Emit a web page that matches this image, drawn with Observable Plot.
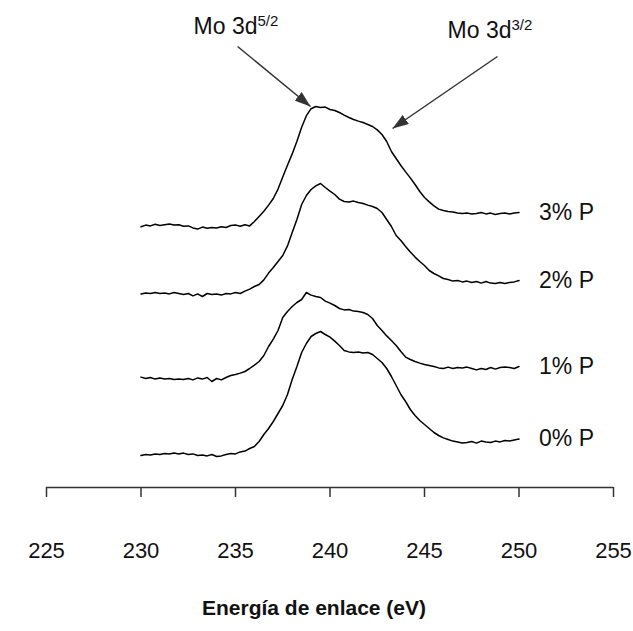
<!DOCTYPE html>
<html>
<head>
<meta charset="utf-8">
<script src="https://cdn.jsdelivr.net/npm/d3@7"></script>
<script src="https://cdn.jsdelivr.net/npm/@observablehq/plot@0.6"></script>
<style>
  body { margin: 0; background: #fff; }
  #chart svg { display: block; }
</style>
</head>
<body>
<div id="chart"></div>
<script>
// Binding energy sampling (eV)
const energy = [
  230, 230.25, 230.5, 230.75, 231, 231.25, 231.5, 231.75, 232, 232.25, 232.5, 232.75,
  233, 233.25, 233.5, 233.75, 234, 234.25, 234.5, 234.75, 235, 235.25, 235.5, 235.75,
  236, 236.25, 236.5, 236.75, 237, 237.25, 237.5, 237.75, 238, 238.25, 238.5, 238.75,
  239, 239.25, 239.5, 239.75, 240, 240.25, 240.5, 240.75, 241, 241.25, 241.5, 241.75,
  242, 242.25, 242.5, 242.75, 243, 243.25, 243.5, 243.75, 244, 244.25, 244.5, 244.75,
  245, 245.25, 245.5, 245.75, 246, 246.25, 246.5, 246.75, 247, 247.25, 247.5, 247.75,
  248, 248.25, 248.5, 248.75, 249, 249.25, 249.5, 249.75, 250
];

// Mo 3d intensity (a.u., spectra stacked with vertical offsets)
const p0 = [
  8.0, 8.25, 8.1, 8.4, 8.25, 8.5, 8.4, 8.6, 8.4, 8.6, 8.25, 8.4,
  8.0, 8.1, 7.9, 8.25, 7.75, 7.9, 8.25, 8.5, 8.4, 8.9, 9.1, 9.75,
  10.25, 11.5, 13.25, 14.75, 16.5, 18.5, 20.5, 23.25, 27.0, 30.25, 33.75, 36.0,
  37.75, 38.5, 39.0, 38.25, 37.6, 36.6, 35.5, 34.25, 33.9, 33.75, 33.9, 33.6,
  33.75, 33.25, 32.25, 31.25, 29.75, 27.75, 25.5, 23.25, 21.5, 19.5, 18.0, 16.75,
  15.75, 14.75, 13.75, 13.0, 12.4, 12.0, 11.6, 11.4, 11.1, 11.25, 11.5, 11.1,
  11.6, 11.4, 11.25, 11.6, 11.4, 11.75, 11.6, 11.9, 12.1
];
const p1 = [
  27.6, 27.25, 27.5, 27.1, 27.4, 27.1, 27.25, 27.0, 27.1, 27.0, 27.25, 26.9,
  27.4, 27.1, 27.5, 26.5, 27.25, 26.9, 27.5, 28.0, 28.25, 28.6, 29.0, 29.75,
  30.6, 31.5, 33.0, 35.25, 37.1, 39.25, 42.5, 44.0, 45.25, 46.25, 47.0, 48.75,
  48.1, 47.75, 47.5, 46.6, 46.1, 45.5, 44.75, 44.4, 44.5, 44.1, 44.0, 43.75,
  43.25, 42.25, 40.5, 39.25, 37.9, 36.75, 35.5, 34.0, 32.6, 32.0, 31.5, 31.1,
  30.75, 30.5, 30.25, 29.9, 29.75, 30.1, 29.75, 30.0, 29.9, 30.1, 29.75, 29.4,
  29.75, 29.5, 30.0, 29.6, 30.0, 30.1, 30.0, 29.75, 30.25
];
const p2 = [
  48.4, 48.6, 48.5, 48.75, 48.5, 48.6, 48.4, 48.75, 48.5, 48.25, 48.5, 47.9,
  48.4, 47.75, 48.5, 48.25, 48.4, 48.1, 48.5, 48.4, 48.75, 48.5, 49.1, 49.6,
  50.25, 50.75, 51.9, 53.6, 55.0, 56.5, 58.0, 60.4, 63.75, 67.0, 70.75, 73.0,
  74.5, 75.4, 76.0, 75.0, 74.1, 73.25, 72.1, 71.5, 71.4, 71.6, 71.25, 71.0,
  70.6, 70.25, 69.75, 68.75, 67.0, 65.25, 63.0, 61.75, 60.25, 58.9, 57.6, 56.5,
  55.5, 54.25, 53.5, 52.9, 52.25, 52.0, 51.6, 51.75, 51.4, 51.6, 51.25, 51.5,
  51.1, 51.5, 51.1, 51.0, 51.25, 51.0, 51.25, 51.4, 51.75
];
const p3 = [
  65.2, 65.6, 65.4, 65.8, 65.5, 65.7, 65.9, 65.6, 65.7, 65.3, 65.4, 64.9,
  64.6, 65.1, 64.8, 65.0, 64.9, 65.2, 65.0, 65.5, 65.6, 65.3, 65.7, 65.4,
  66.5, 67.75, 69.05, 70.6, 72.25, 74.6, 77.6, 80.55, 83.4, 86.55, 90.05, 92.95,
  94.7, 95.25, 95.0, 95.1, 94.5, 94.25, 93.75, 93.1, 92.5, 92.0, 91.6, 91.25,
  90.75, 90.25, 89.4, 88.25, 86.5, 84.0, 82.25, 80.5, 78.9, 77.4, 75.75, 74.0,
  72.5, 71.4, 70.4, 69.6, 69.25, 69.0, 68.9, 68.6, 68.5, 68.6, 68.4, 68.5,
  68.75, 68.4, 68.6, 68.25, 68.5, 68.6, 68.4, 68.6, 68.75
];

const seriesLabels = ["0% P", "1% P", "2% P", "3% P"];
const seriesValues = [p0, p1, p2, p3];
const xTicks = [225, 230, 235, 240, 245, 250, 255];
const xTitle = "Energía de enlace (eV)";

// Peak callouts: label, superscript, text anchor point, arrow start and arrow tip (eV, a.u.)
const peakNames = ["Mo 3d", "Mo 3d"];
const peakSups = ["5/2", "3/2"];
const peakText = [[232.78, 113.5], [246.22, 112.5]];
const peakFrom = [[235.11, 110.25], [248.86, 107.75]];
const peakTo = [[238.97, 95.25], [243.31, 89.75]];

const rows = seriesLabels.flatMap((label, s) =>
  seriesValues[s].map((v, i) => ({energy: energy[i], intensity: v, label}))
);
const ends = seriesLabels.map((label, s) => ({
  energy: energy[energy.length - 1],
  intensity: seriesValues[s][seriesValues[s].length - 1],
  label
}));
const notes = peakNames.map((name, i) => ({
  name, sup: peakSups[i],
  tx: peakText[i][0], ty: peakText[i][1],
  x1: peakFrom[i][0], y1: peakFrom[i][1],
  x2: peakTo[i][0], y2: peakTo[i][1]
}));

const ink = "#111";
const axisInk = "#333";

const svg = Plot.plot({
  width: 633,
  height: 631,
  marginLeft: 46,
  marginRight: 20,
  marginTop: 7,
  marginBottom: 144,
  style: {fontFamily: "Arial, 'Liberation Sans', sans-serif", background: "#fff", color: ink, overflow: "visible"},
  x: {domain: [225, 255], axis: null},
  y: {domain: [0, 120], axis: null},
  marks: [
    Plot.ruleY([0], {stroke: axisInk, strokeWidth: 1.5}),
    Plot.axisX(xTicks, {
      tickSize: 10, tickPadding: 45, fontSize: 22, stroke: axisInk, strokeWidth: 1.5,
      fill: ink, tickFormat: d => String(d), label: null
    }),
    Plot.text([xTitle], {
      frameAnchor: "bottom", text: d => d, dy: 127, dx: -16,
      fontSize: 21, fontWeight: "bold", fill: ink
    }),
    Plot.line(rows, {
      x: "energy", y: "intensity", z: "label",
      stroke: "#000", strokeWidth: 1.5, strokeLinejoin: "round"
    }),
    Plot.text(ends, {
      x: "energy", y: "intensity", text: "label",
      dx: 20, textAnchor: "start", fontSize: 23, fill: ink
    }),
    Plot.link(notes, {
      x1: "x1", y1: "y1", x2: "x2", y2: "y2",
      stroke: axisInk, strokeWidth: 1.5
    }),
    Plot.text(notes, {
      x: "tx", y: "ty", text: d => d.name + d.sup,
      textAnchor: "start", lineAnchor: "bottom", fontSize: 23, fill: ink
    })
  ]
});

// Filled arrowheads for the peak callouts
const ns = "http://www.w3.org/2000/svg";
const defs = document.createElementNS(ns, "defs");
const marker = document.createElementNS(ns, "marker");
marker.setAttribute("id", "callout-head");
marker.setAttribute("viewBox", "0 0 16 11");
marker.setAttribute("refX", "16");
marker.setAttribute("refY", "5.5");
marker.setAttribute("markerWidth", "16");
marker.setAttribute("markerHeight", "11");
marker.setAttribute("markerUnits", "userSpaceOnUse");
marker.setAttribute("orient", "auto");
const head = document.createElementNS(ns, "path");
head.setAttribute("d", "M0,0L16,5.5L0,11Z");
head.setAttribute("fill", axisInk);
marker.appendChild(head);
defs.appendChild(marker);
svg.insertBefore(defs, svg.firstChild);
svg.querySelectorAll('g[aria-label="link"] path').forEach(p => p.setAttribute("marker-end", "url(#callout-head)"));

// Superscript orbital labels
svg.querySelectorAll("text").forEach(t => {
  const n = notes.find(d => t.textContent === d.name + d.sup);
  if (!n) return;
  t.textContent = n.name;
  const s = document.createElementNS(ns, "tspan");
  s.setAttribute("font-size", "15");
  s.setAttribute("dy", "-8");
  s.textContent = n.sup;
  t.appendChild(s);
});

document.getElementById("chart").appendChild(svg);
</script>
</body>
</html>
